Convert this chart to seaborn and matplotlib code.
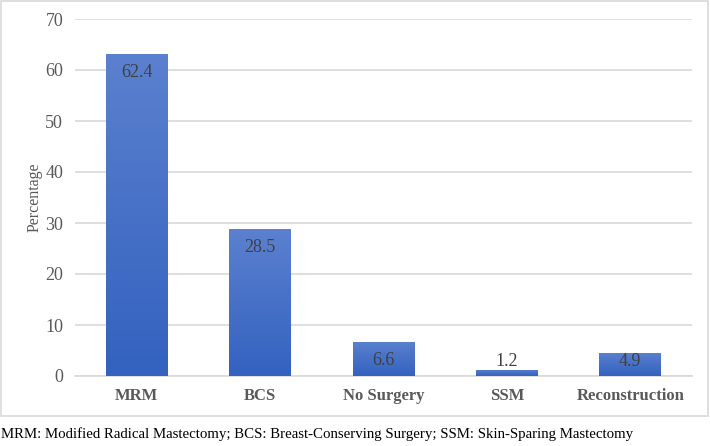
import matplotlib
matplotlib.use("Agg")
import matplotlib.pyplot as plt
import numpy as np
import pandas as pd
import seaborn as sns
from matplotlib.colors import LinearSegmentedColormap
from matplotlib.patches import Rectangle

# bar heights as drawn, and the data labels printed on them
categories = ["MRM", "BCS", "No Surgery", "SSM", "Reconstruction"]
heights = [63.2, 28.8, 6.7, 1.2, 4.6]
value_labels = ["62.4", "28.5", "6.6", "1.2", "4.9"]
y_ticks = [0, 10, 20, 30, 40, 50, 60, 70]
footnote = "MRM: Modified Radical Mastectomy; BCS: Breast-Conserving Surgery; SSM: Skin-Sparing Mastectomy"

sns.set_theme(style="white")
plt.rcParams["font.family"] = "serif"
plt.rcParams["font.serif"] = ["Liberation Serif", "DejaVu Serif"]

df = pd.DataFrame({"Category": categories, "Percentage": heights})

fig = plt.figure(figsize=(7.1, 4.46), dpi=100)
ax = fig.add_axes([75 / 710, 1 - 376 / 446, 617 / 710, 357 / 446])

sns.barplot(data=df, x="Category", y="Percentage", color="#4472c4", width=0.5, ax=ax, zorder=2)

# gradient fill on each bar, light at top and darker at bottom
grad = LinearSegmentedColormap.from_list("bar", ["#3362bf", "#5b80cf"])
for patch in ax.patches:
    x0, y0 = patch.get_x(), patch.get_y()
    w, h = patch.get_width(), patch.get_height()
    img = ax.imshow(np.linspace(0, 1, 100).reshape(-1, 1), cmap=grad, origin="lower",
                    extent=[x0, x0 + w, y0, y0 + h], aspect="auto", zorder=3)
    img.set_clip_path(patch)
    patch.set_facecolor("none")
    patch.set_edgecolor("none")

ax.set_xlim(-0.5, len(categories) - 0.5)
ax.set_ylim(0, 70)
ax.set_yticks(y_ticks)
ax.yaxis.grid(True, color="#d9d9d9", linewidth=1.2, zorder=0)
ax.set_axisbelow(True)
for side in ["top", "right", "left"]:
    ax.spines[side].set_visible(False)
ax.spines["bottom"].set_color("#d9d9d9")
ax.spines["bottom"].set_linewidth(1.2)
ax.tick_params(axis="y", length=0, colors="#595959", labelsize=13, pad=8.5)
ax.tick_params(axis="x", length=0, colors="#595959", labelsize=12, pad=9)
for lbl in ax.get_xticklabels():
    lbl.set_fontweight("bold")
ax.set_xlabel("")
ax.set_ylabel("Percentage", fontsize=11.5, color="#595959")
ax.yaxis.set_label_coords(-0.052, 0.5)

for i, (h, txt) in enumerate(zip(heights, value_labels)):
    ax.text(i, max(h - 3.6, 2.8), txt, ha="center", va="center", fontsize=13,
            color="#404040", zorder=4)

fig.patches.append(Rectangle((1 / 710, 1 - 416 / 446), 707 / 710, 415 / 446,
                             transform=fig.transFigure, fill=False,
                             edgecolor="#d9d9d9", linewidth=1.2))
fig.text(1 / 710, 1 - 434 / 446, footnote, ha="left", va="center", fontsize=10.7, color="black")

fig.savefig("out.png", dpi=100)
